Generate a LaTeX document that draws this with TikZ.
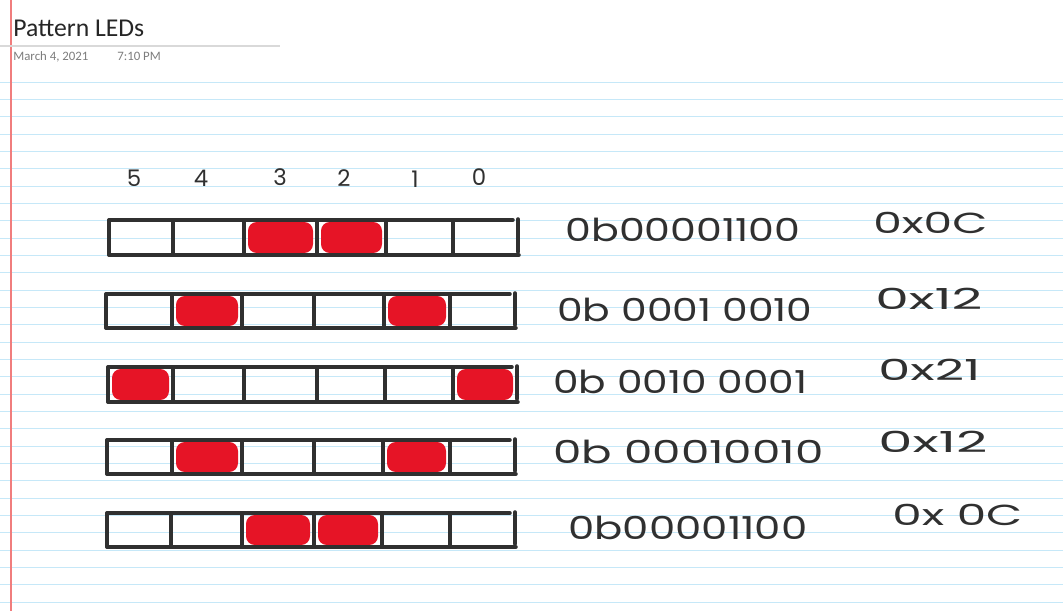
\documentclass[tikz,border=0pt]{standalone}
\usepackage{fontspec}
\setmainfont{Carlito}
\newfontfamily\handfont{Poppins}
\usetikzlibrary{positioning}
\definecolor{ruleblue}{RGB}{198,232,248}
\definecolor{marginred}{RGB}{240,125,125}
\definecolor{ink}{RGB}{48,48,48}
\definecolor{ledred}{RGB}{230,20,38}
\definecolor{dategray}{RGB}{125,125,125}
\tikzset{
  ruleline/.style={ruleblue, line width=0.6pt},
  gridline/.style={ink, line width=2pt, line cap=round},
  led/.style={fill=ledred, rounded corners=5pt},
  bitlbl/.style={font=\handfont\fontsize{13}{15}\selectfont, text=ink, inner sep=0pt},
  binlbl/.style={font=\handfont\fontsize{18}{20}\selectfont, text=ink, anchor=west, inner sep=0pt},
  hexlbl/.style={font=\handfont\fontsize{16.5}{18}\selectfont, text=ink, anchor=west, inner sep=0pt}
}
\newlength{\handpx}
\setlength{\handpx}{0.02cm}
% width of a handwritten label, in px
\newcommand{\handw}[2]{\resizebox{#1\handpx}{\height}{#2}}
% one row of six LEDs: top, bottom, left, dividers, right bar, lit cells
\newcommand{\ledrow}[6]{
  \foreach \a/\b in {#6}
    \fill[led] (\a+4, #1+2) rectangle (\b-4, #2-2);
  \draw[gridline] (#3, #1) -- (#5-5, #1);
  \draw[gridline] (#3, #2) -- (#5+1, #2);
  \foreach \x in {#3, #4}
    \draw[gridline] (\x, #1) -- (\x, #2);
  \draw[gridline] (#5, #1-1) -- (#5, #2-3);
}

\begin{document}
\begin{tikzpicture}[x=0.02cm, y=-0.02cm]
\useasboundingbox (0,0) rectangle (1063,611);
\fill[white] (0,0) rectangle (1063,611);

% Ruled page
\foreach \k in {0,...,30}
  \draw[ruleline] (0, 82.3+17.33*\k) -- (1063, 82.3+17.33*\k);
\draw[marginred, line width=0.9pt] (11,0) -- (11,611);
\draw[black!15, line width=0.6pt] (0,46) -- (280,46);

% Title and date
\node[anchor=base west, inner sep=0pt, font=\fontsize{14.6}{16}\selectfont, text=black!85] (title) at (13,37) {Pattern LEDs};
\node[anchor=base west, inner sep=0pt, font=\fontsize{7.3}{9}\selectfont, text=dategray] (date) at (13,61) {March 4, 2021};
\node[anchor=base west, inner sep=0pt, font=\fontsize{7.3}{9}\selectfont, text=dategray] (time) at (117,61) {7:10 PM};

% Bit numbers
\node[bitlbl] (bit5) at (134,178) {5};
\node[bitlbl] (bit4) at (201,178) {4};
\node[bitlbl] (bit3) at (280,177) {3};
\node[bitlbl] (bit2) at (344,178) {2};
\node[bitlbl] (bit1) at (415,179) {1};
\node[bitlbl] (bit0) at (479,177) {0};

% LED rows
\ledrow{220}{255}{109}{173,244,317,386,453}{518}{244/317,317/386}
\ledrow{294}{328}{106}{172,242,314,384,450}{515}{172/242,384/450}
\ledrow{367}{402}{108}{173,244,317,385,453}{517}{108/173,453/517}
\ledrow{440}{474}{107}{172,242,314,383,450}{515}{172/242,383/450}
\ledrow{513}{547}{107}{171,242,314,382,450}{515}{242/314,314/382}

% Binary values
\node[binlbl] (bin1) at (565,230) {\handw{235}{0b00001100}};
\node[binlbl] (bin2) at (557,310) {\handw{255}{0b 0001 0010}};
\node[binlbl] (bin3) at (553,382) {\handw{254}{0b 0010 0001}};
\node[binlbl] (bin4) at (553,452) {\handw{270}{0b 00010010}};
\node[binlbl] (bin5) at (568,528) {\handw{239}{0b00001100}};

% Hex values
\node[hexlbl] (hex1) at (873,223) {\handw{114}{0x0C}};
\node[hexlbl] (hex2) at (875,299) {\handw{107}{0x12}};
\node[hexlbl] (hex3) at (878,370) {\handw{102}{0x21}};
\node[hexlbl] (hex4) at (878,442) {\handw{109}{0x12}};
\node[hexlbl] (hex5) at (892,515) {\handw{130}{0x 0C}};

\end{tikzpicture}
\end{document}
